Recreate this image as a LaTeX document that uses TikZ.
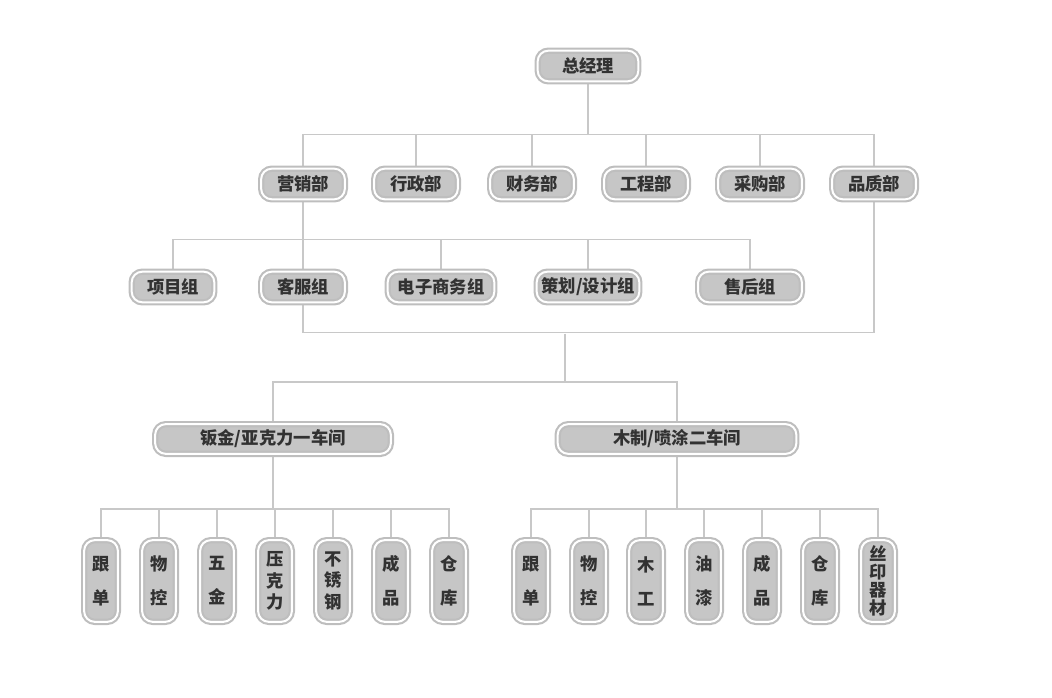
\documentclass[tikz,border=0pt]{standalone}
\usepackage{fontspec}
\newfontfamily\cjk{Noto Sans CJK SC}
\usetikzlibrary{backgrounds}
\definecolor{ringgrey}{RGB}{190,190,190}
\definecolor{fillgrey}{RGB}{198,198,198}
\definecolor{linegrey}{RGB}{200,200,200}
\definecolor{textgrey}{RGB}{50,50,50}

\begin{document}
\begin{tikzpicture}[x=0.75pt, y=-0.75pt,
    unitbox/.style={rectangle, rounded corners=8pt, draw=ringgrey, fill=fillgrey,
        line width=1.6pt, double=white, double distance=1.5pt, inner sep=0pt,
        text=textgrey, font=\cjk\bfseries\fontsize{13}{15}\selectfont},
    topbox/.style={unitbox, minimum width=75.5pt, minimum height=23pt},
    deptbox/.style={unitbox, minimum width=62.8pt, minimum height=23pt},
    groupbox/.style={unitbox, minimum height=23pt},
    shopbox/.style={unitbox, minimum height=22.3pt},
    postbox/.style={unitbox, minimum width=25.3pt, minimum height=61.3pt, align=center},
    two/.style={font=\cjk\bfseries\fontsize{13}{25.5}\selectfont},
    three/.style={font=\cjk\bfseries\fontsize{13}{16}\selectfont},
    four/.style={font=\cjk\bfseries\fontsize{13}{13.5}\selectfont},
    link/.style={draw=linegrey, line width=1pt},
]
    \useasboundingbox (0,0) rectangle (1052,698);

    % top
    \node[topbox] (gm) at (588,66) {总经理};

    % departments
    \node[deptbox] (yx) at (303,184) {营销部};
    \node[deptbox] (xz) at (416,184) {行政部};
    \node[deptbox] (cw) at (532,184) {财务部};
    \node[deptbox] (gc) at (646,184) {工程部};
    \node[deptbox] (cg) at (760,184) {采购部};
    \node[deptbox] (pz) at (874,184) {品质部};

    % groups
    \node[groupbox, minimum width=62pt] (xm) at (173,287) {项目组};
    \node[groupbox, minimum width=62.8pt] (kf) at (303,287) {客服组};
    \node[groupbox, minimum width=80pt] (ds) at (441,287) {电子商务组};
    \node[groupbox, minimum width=77pt] (ch) at (588,287) {策划/设计组};
    \node[groupbox, minimum width=77.8pt] (sh) at (750,287) {售后组};

    % workshops
    \node[shopbox, minimum width=176.8pt] (ws1) at (273,439) {钣金/亚克力一车间};
    \node[shopbox, minimum width=179pt] (ws2) at (677,439) {木制/喷涂二车间};

    % posts of workshop 1
    \node[postbox, two] (a1) at (101,581) {跟\\单};
    \node[postbox, two] (a2) at (159,581) {物\\控};
    \node[postbox, two] (a3) at (217,581) {五\\金};
    \node[postbox, three] (a4) at (275,581) {压\\克\\力};
    \node[postbox, three] (a5) at (333,581) {不\\锈\\钢};
    \node[postbox, two] (a6) at (391,581) {成\\品};
    \node[postbox, two] (a7) at (449,581) {仓\\库};

    % posts of workshop 2
    \node[postbox, two] (b1) at (531,581) {跟\\单};
    \node[postbox, two] (b2) at (589,581) {物\\控};
    \node[postbox, two] (b3) at (646,581) {木\\工};
    \node[postbox, two] (b4) at (704,581) {油\\漆};
    \node[postbox, two] (b5) at (762,581) {成\\品};
    \node[postbox, two] (b6) at (820,581) {仓\\库};
    \node[postbox, four] (b7) at (878,581) {丝\\印\\器\\材};

    \coordinate (hub) at (565,334);

    \begin{scope}[on background layer]
        \foreach \n in {yx,xz,cw,gc,cg,pz}
            \draw[link] (gm.south) -- ++(0,52) -| (\n.north);
        \foreach \n in {xm,kf,ds,ch,sh}
            \draw[link] (yx.south) -- ++(0,39) -| (\n.north);
        \draw[link] (kf.south) -- ++(0,29) -| (pz.south);
        \draw[link] (hub) -- ++(0,48) -| (ws1.north);
        \draw[link] (hub) -- ++(0,48) -| (ws2.north);
        \foreach \n in {a1,a2,a3,a4,a5,a6,a7}
            \draw[link] (ws1.south) -- ++(0,54) -| (\n.north);
        \foreach \n in {b1,b2,b3,b4,b5,b6,b7}
            \draw[link] (ws2.south) -- ++(0,54) -| (\n.north);
    \end{scope}
\end{tikzpicture}
\end{document}
